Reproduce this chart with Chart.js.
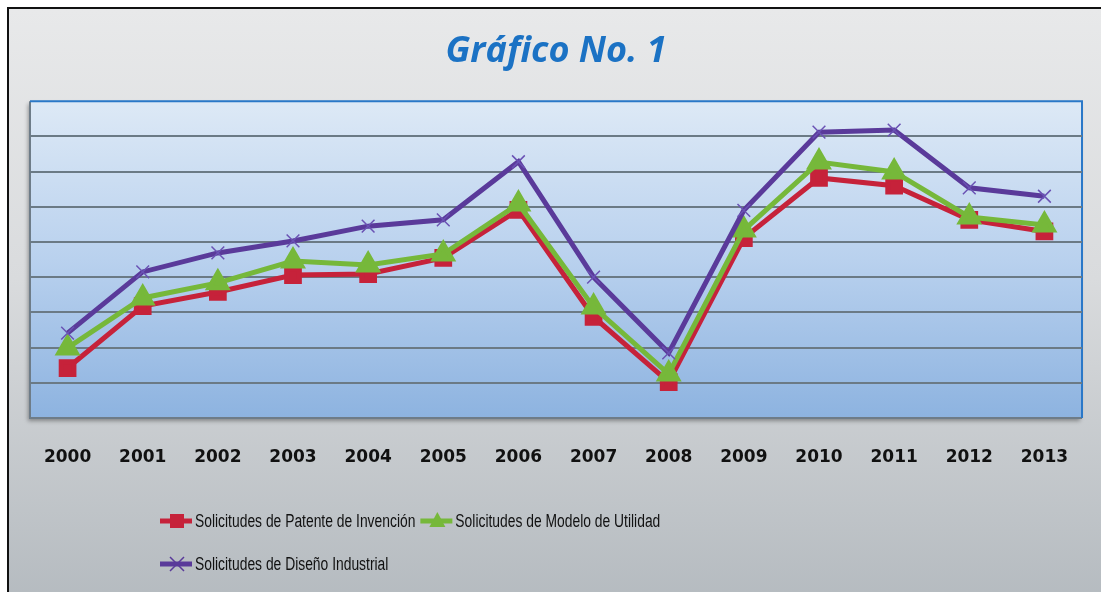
<!DOCTYPE html>
<html>
<head>
<meta charset="utf-8">
<script src="https://cdn.jsdelivr.net/npm/chart.js@4.4.1/dist/chart.umd.min.js"></script>
<style>
  html, body { margin: 0; padding: 0; background: #fff; }
  #wrap {
    position: absolute; left: 7px; top: 7px; width: 1110px; height: 600px;
    border-left: 2px solid #111; border-top: 2px solid #111;
    background: linear-gradient(to bottom, #e8e9ea 0%, #d9dbdd 45%, #b4babf 100%);
  }
  #c { position: absolute; left: 0; top: 0; }
</style>
</head>
<body>
<div id="wrap"></div>
<canvas id="c" width="1101" height="592"></canvas>
<script>
let years = ['2000','2001','2002','2003','2004','2005','2006','2007','2008','2009','2010','2011','2012','2013']
let patente = [1.42, 3.18, 3.58, 4.06, 4.09, 4.55, 5.91, 2.87, 1.02, 5.11, 6.82, 6.60, 5.63, 5.30]
let modelo  = [1.99, 3.41, 3.84, 4.46, 4.35, 4.66, 6.08, 3.15, 1.25, 5.34, 7.27, 6.99, 5.71, 5.48]
let diseno  = [2.41, 4.15, 4.69, 5.03, 5.45, 5.63, 7.28, 4.00, 1.85, 5.90, 8.12, 8.18, 6.54, 6.30]
let names = ['Solicitudes de Patente de Invención', 'Solicitudes de Modelo de Utilidad', 'Solicitudes de Diseño Industrial']

// plot background + frame
let plotBg = {
  id: 'plotBg',
  beforeDraw(chart) {
    let a = chart.chartArea
    let ctx = chart.ctx
    ctx.save()
    ctx.shadowColor = 'rgba(0,0,0,0.35)'
    ctx.shadowOffsetX = -2
    ctx.shadowOffsetY = 3
    ctx.shadowBlur = 4
    let g = ctx.createLinearGradient(0, a.top, 0, a.bottom)
    g.addColorStop(0, '#dde9f6')
    g.addColorStop(0.5, '#b9d1ee')
    g.addColorStop(1, '#8db3e0')
    ctx.fillStyle = g
    ctx.fillRect(a.left, a.top, a.right - a.left, a.bottom - a.top)
    ctx.restore()
    ctx.save()
    ctx.lineWidth = 2
    ctx.strokeStyle = '#6e7c88'
    ctx.beginPath()
    ctx.moveTo(a.left, a.top); ctx.lineTo(a.left, a.bottom); ctx.lineTo(a.right, a.bottom)
    ctx.stroke()
    ctx.strokeStyle = '#2a78c8'
    ctx.beginPath()
    ctx.moveTo(a.left, a.top); ctx.lineTo(a.right, a.top); ctx.lineTo(a.right, a.bottom)
    ctx.stroke()
    ctx.restore()
  }
}

function drawMarker(ctx, style, x, y, color) {
  ctx.save()
  ctx.fillStyle = color
  ctx.strokeStyle = color
  if (style == 'rect') {
    ctx.fillRect(x - 7, y - 7, 14, 14)
  } else if (style == 'triangle') {
    ctx.beginPath()
    ctx.moveTo(x, y - 9); ctx.lineTo(x + 8, y + 6); ctx.lineTo(x - 8, y + 6)
    ctx.closePath(); ctx.fill()
  } else {
    ctx.lineWidth = 1.5
    ctx.beginPath()
    ctx.moveTo(x - 7, y - 7); ctx.lineTo(x + 7, y + 7)
    ctx.moveTo(x + 7, y - 7); ctx.lineTo(x - 7, y + 7)
    ctx.stroke()
  }
  ctx.restore()
}

// legend drawn like the office one: short line with marker, then narrow text
let officeLegend = {
  id: 'officeLegend',
  afterDraw(chart) {
    let ctx = chart.ctx
    let squeeze = 0.77
    ctx.save()
    ctx.font = '18px "Liberation Sans", sans-serif'
    ctx.textBaseline = 'middle'
    let rows = [[0, 1], [2]]
    let rowY = [521, 564]
    rows.forEach((row, r) => {
      let x = 160
      for (let i of row) {
        let ds = chart.data.datasets[i]
        ctx.strokeStyle = ds.borderColor
        ctx.lineWidth = 5
        ctx.beginPath(); ctx.moveTo(x, rowY[r]); ctx.lineTo(x + 32, rowY[r]); ctx.stroke()
        drawMarker(ctx, ds.pointStyle, x + 17, rowY[r], ds.borderColor)
        ctx.save()
        ctx.translate(x + 35, rowY[r])
        ctx.scale(squeeze, 1)
        ctx.fillStyle = '#111'
        ctx.fillText(names[i], 0, 1)
        ctx.restore()
        x += 35 + ctx.measureText(names[i]).width * squeeze + 5
      }
    })
    ctx.restore()
  }
}

new Chart(document.getElementById('c').getContext('2d'), {
  type: 'line',
  data: {
    labels: years,
    datasets: [{
      label: names[0],
      data: patente,
      borderColor: '#c6223a',
      backgroundColor: '#c6223a',
      borderWidth: 5,
      pointStyle: 'rect',
      pointRadius: 9,
      order: 3
    },
    {
      label: names[1],
      data: modelo,
      borderColor: '#76b83a',
      backgroundColor: '#76b83a',
      borderWidth: 5,
      pointStyle: 'triangle',
      pointRadius: 10,
      order: 2
    },
    {
      label: names[2],
      data: diseno,
      borderColor: '#5a3a9a',
      backgroundColor: '#5a3a9a',
      borderWidth: 5,
      pointStyle: 'crossRot',
      pointRadius: 9,
      pointBorderWidth: 1.5,
      pointBorderColor: '#6a52b4',
      order: 1
    }]
  },
  options: {
    responsive: false,
    animation: false,
    layout: { padding: { left: 30, right: 19, top: 0, bottom: 114 } },
    plugins: {
      legend: { display: false },
      tooltip: { enabled: false },
      title: {
        display: true,
        text: 'Gráfico No. 1',
        color: '#1b72c4',
        font: { family: 'Open Sans', size: 36, style: 'italic', weight: 'bold', lineHeight: 1.2 },
        padding: { top: 30, bottom: 28 }
      }
    },
    scales: {
      x: {
        offset: true,
        grid: { display: false },
        border: { display: false },
        ticks: { color: '#111', padding: 21, font: { family: 'DejaVu Sans', size: 17, weight: 'bold' } },
        afterFit: s => { s.height = 60 }
      },
      y: {
        min: 0, max: 9,
        border: { display: false },
        ticks: { display: false, stepSize: 1 },
        grid: {
          drawTicks: false,
          lineWidth: 2,
          color: c => (c.tick.value == 0 || c.tick.value == 9) ? 'rgba(0,0,0,0)' : '#6b7a85'
        },
        afterFit: s => { s.width = 0 }
      }
    }
  },
  plugins: [plotBg, officeLegend]
})
</script>
</body>
</html>
